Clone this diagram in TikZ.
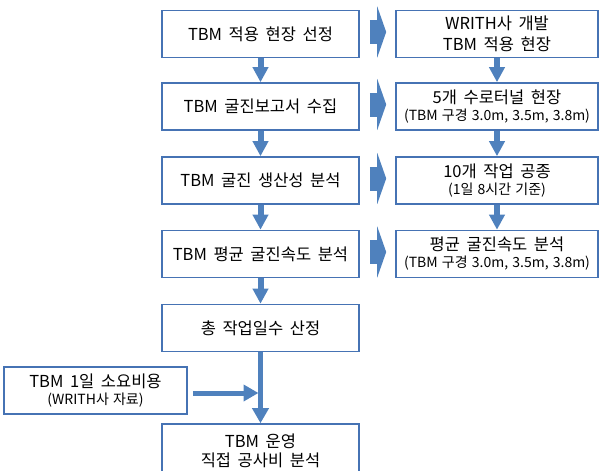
\documentclass[tikz,border=0pt]{standalone}
\usepackage{fontspec}
\setmainfont{Noto Sans CJK KR}
\usetikzlibrary{arrows.meta}
\definecolor{boxc}{RGB}{70,115,180}
\definecolor{arrc}{RGB}{79,129,189}
\newcommand{\mainfnt}{\fontsize{16.5}{21}\selectfont\spaceskip=0.4em plus 0.1em\relax}
\newcommand{\subtxt}[1]{{\fontsize{14}{16}\selectfont\spaceskip=0.3em plus 0.1em\relax #1}}
\tikzset{
  box/.style={draw=boxc, line width=1.6pt, fill=white, minimum height=47pt, inner sep=0pt, align=center, font=\mainfnt},
  lbox/.style={box, minimum width=197pt},
  rbox/.style={box, minimum width=202pt},
  downarr/.style={draw=arrc, line width=6pt, -{Triangle[width=15pt,length=15pt]}},
  thinarr/.style={draw=arrc, line width=5pt, -{Triangle[width=16pt,length=15pt]}},
  blockarr/.style={draw=arrc, line width=24pt, -{Triangle[width=51pt,length=9pt]}},
}
\begin{document}
\begin{tikzpicture}[x=1pt,y=-1pt]
\useasboundingbox (0,0) rectangle (600,471);
\clip (0,0) rectangle (600,471);
% left column
\node[lbox] (L1) at (260.5,34) {TBM 적용 현장 선정};
\node[lbox] (L2) at (260.5,106.5) {TBM 굴진보고서 수집};
\node[lbox] (L3) at (260.5,180.5) {TBM 굴진 생산성 분석};
\node[lbox] (L4) at (260.5,254) {TBM 평균 굴진속도 분석};
\node[lbox] (L5) at (260.5,328) {총 작업일수 산정};
\node[lbox, minimum height=54pt] (L6) at (260.5,451) {TBM 운영\\[-2pt]직접 공사비 분석};
\node[box, minimum width=183pt] (LC) at (95.5,390.5) {TBM 1일 소요비용\\[-4pt]\subtxt{(WRITH사 자료)}};
% right column
\node[rbox] (R1) at (497,34) {WRITH사 개발\\TBM 적용 현장};
\node[rbox] (R2) at (497,106.5) {5개 수로터널 현장\\[-4pt]\subtxt{(TBM 구경 3.0m, 3.5m, 3.8m)}};
\node[rbox] (R3) at (497,180.5) {10개 작업 공종\\[-4pt]\subtxt{(1일 8시간 기준)}};
\node[rbox] (R4) at (497,254) {평균 굴진속도 분석\\[-4pt]\subtxt{(TBM 구경 3.0m, 3.5m, 3.8m)}};
% down arrows
\foreach \a/\b in {L1/L2,L2/L3,L3/L4,L4/L5,R1/R2,R2/R3,R3/R4}
  \draw[downarr] (\a.south) -- (\b.north);
% block arrows
\foreach \a/\b in {L1/R1,L2/R2,L3/R3,L4/R4}
  \draw[blockarr] ([xshift=10pt,yshift=2pt]\a.east) -- ([xshift=-9pt,yshift=2pt]\b.west);
% final merge
\draw[thinarr] (L5.south) -- (L6.north);
\coordinate (J) at (L5.south |- LC.east);
\draw[thinarr] ([xshift=5pt,yshift=-2.5pt]LC.east) -- ([xshift=-2pt,yshift=-2.5pt]J);
\end{tikzpicture}
\end{document}
